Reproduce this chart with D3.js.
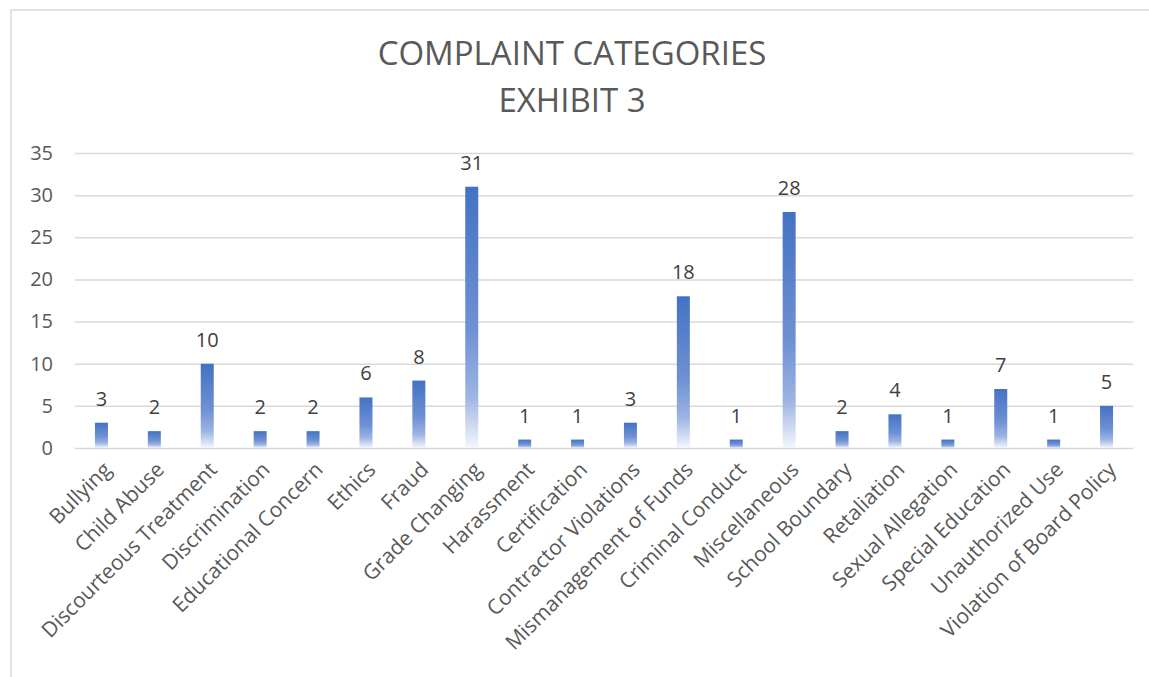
<!DOCTYPE html>
<html>
<head>
<meta charset="utf-8">
<script src="https://cdn.jsdelivr.net/npm/d3@7"></script>
<style>
  html, body { margin: 0; padding: 0; background: #fff; overflow: hidden; }
  text { font-family: "Open Sans", "Liberation Sans", sans-serif; }
</style>
</head>
<body>
<svg id="chart" width="1149" height="677"></svg>
<script>
// Chart data
var categories = [
  "Bullying", "Child Abuse", "Discourteous Treatment", "Discrimination",
  "Educational Concern", "Ethics", "Fraud", "Grade Changing", "Harassment",
  "Certification", "Contractor Violations", "Mismanagement of Funds",
  "Criminal Conduct", "Miscellaneous", "School Boundary", "Retaliation",
  "Sexual Allegation", "Special Education", "Unauthorized Use",
  "Violation of Board Policy"
];
var counts = [3, 2, 10, 2, 2, 6, 8, 31, 1, 1, 3, 18, 1, 28, 2, 4, 1, 7, 1, 5];
var yTicks = [0, 5, 10, 15, 20, 25, 30, 35];
var titleLines = ["COMPLAINT CATEGORIES", "EXHIBIT 3"];

var svg = d3.select("#chart");

var LEFT = 75, RIGHT = 1133, TOP = 153, BOTTOM = 448;

// chart area border (runs off the right / bottom of the picture)
svg.append("rect")
  .attr("x", 11).attr("y", 10)
  .attr("width", 1300).attr("height", 800)
  .attr("fill", "none")
  .attr("stroke", "#d9d9d9")
  .attr("stroke-width", 1.5);

// gradient for the bars
var grad = svg.append("defs").append("linearGradient")
  .attr("id", "barGrad")
  .attr("x1", 0).attr("y1", 0).attr("x2", 0).attr("y2", 1);
grad.append("stop").attr("offset", "0%").attr("stop-color", "#4472c4");
grad.append("stop").attr("offset", "55%").attr("stop-color", "#6f91d3");
grad.append("stop").attr("offset", "80%").attr("stop-color", "#9cb4e3");
grad.append("stop").attr("offset", "100%").attr("stop-color", "#f4f6fc");

// title
svg.selectAll(".title")
  .data(titleLines)
  .enter()
  .append("text")
  .attr("class", "title")
  .attr("x", 572)
  .attr("y", function (d, i) { return 65 + i * 47; })
  .attr("text-anchor", "middle")
  .attr("fill", "#595959")
  .style("font-size", "33px")
  .text(function (d) { return d; });

var xScale = d3.scaleBand()
  .domain(categories)
  .range([LEFT, RIGHT]);

var yScale = d3.scaleLinear()
  .domain([0, 35])
  .range([BOTTOM, TOP]);

// gridlines + y labels
var yAxis = d3.axisLeft(yScale)
  .tickValues(yTicks)
  .tickSize(-(RIGHT - LEFT))
  .tickPadding(22);

var gy = svg.append("g")
  .attr("transform", "translate(" + LEFT + ",0)")
  .call(yAxis);
gy.select(".domain").remove();
gy.selectAll(".tick line")
  .attr("stroke", "#d9d9d9")
  .attr("stroke-width", 1.5);
gy.selectAll(".tick text")
  .attr("fill", "#595959")
  .style("font-size", "20px")
  .style("font-family", "'Open Sans', sans-serif");

// bars
var barWidth = 13;
svg.append("g").selectAll("rect")
  .data(counts)
  .enter()
  .append("rect")
  .attr("x", function (d, i) { return xScale(categories[i]) + xScale.bandwidth() / 2 - barWidth / 2; })
  .attr("y", function (d) { return yScale(d); })
  .attr("width", barWidth)
  .attr("height", function (d) { return BOTTOM - yScale(d); })
  .attr("fill", "url(#barGrad)");

// data labels
svg.append("g").selectAll("text")
  .data(counts)
  .enter()
  .append("text")
  .attr("x", function (d, i) { return xScale(categories[i]) + xScale.bandwidth() / 2; })
  .attr("y", function (d) { return yScale(d) - 17; })
  .attr("text-anchor", "middle")
  .attr("fill", "#404040")
  .style("font-size", "20px")
  .text(function (d) { return d; });

// x labels, rotated
var xAxis = d3.axisBottom(xScale).tickSize(0).tickPadding(0);
var gx = svg.append("g")
  .attr("transform", "translate(0," + BOTTOM + ")")
  .call(xAxis);
gx.select(".domain").remove();
gx.selectAll(".tick text")
  .attr("fill", "#595959")
  .style("font-size", "21px")
  .style("font-family", "'Open Sans', sans-serif")
  .attr("text-anchor", "end")
  .attr("dy", null)
  .attr("x", 0)
  .attr("y", 0)
  .attr("transform", "translate(11,23) rotate(-45)");
</script>
</body>
</html>
